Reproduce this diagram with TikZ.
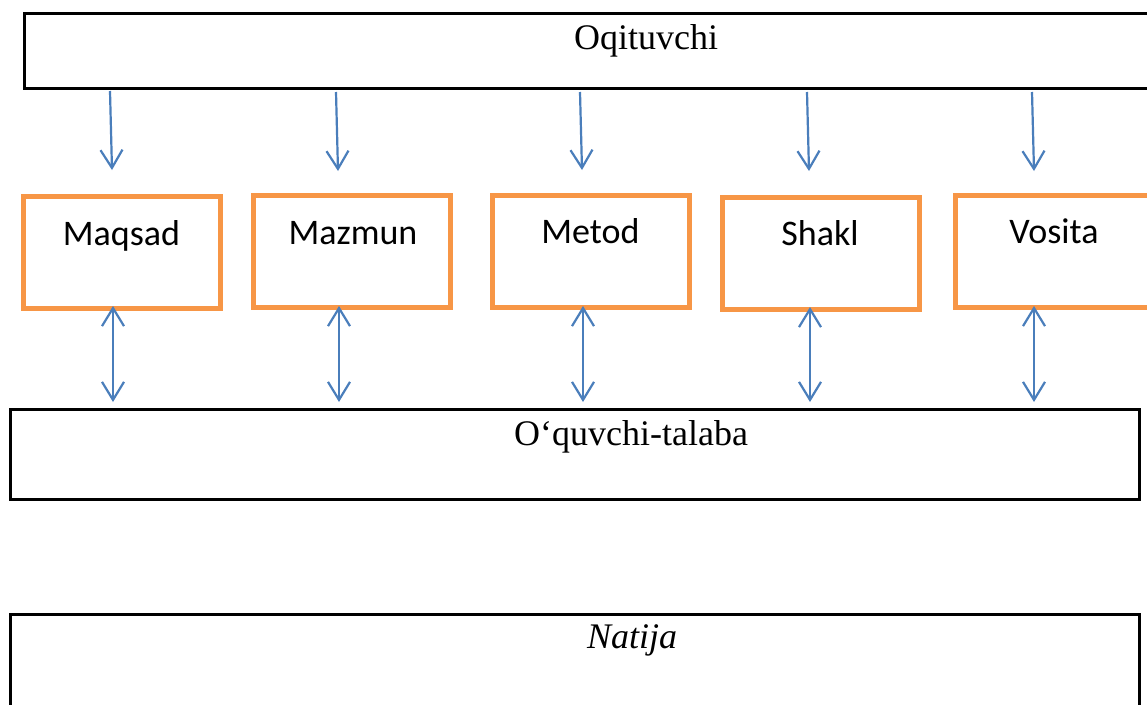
\documentclass[tikz,border=0pt]{standalone}
\usepackage{fontspec}
\setmainfont{Liberation Serif}
\newfontfamily\carlito{Carlito}
\usetikzlibrary{arrows.meta}
\definecolor{obox}{HTML}{F79646}
\definecolor{barrow}{HTML}{4A7EBB}
\tikzset{
  blackbox/.style={draw=black, line width=2.6pt, rectangle, inner sep=0pt, outer sep=0pt, anchor=north west},
  orangebox/.style={draw=obox, line width=4.6pt, rectangle, inner sep=0pt, outer sep=0pt, anchor=north west, minimum width=197pt, minimum height=112pt},
  serif/.style={font=\fontsize{36pt}{40pt}\selectfont, anchor=base, inner sep=0pt},
  sans/.style={font=\carlito\fontsize{36pt}{40pt}\selectfont, anchor=base, inner sep=0pt},
  downarrow/.style={draw=barrow, line width=2.2pt, -{Straight Barb[length=18pt,width=22pt,line width=2.2pt]}},
  bothways/.style={draw=barrow, line width=2.2pt, {Straight Barb[length=18pt,width=22pt,line width=2.2pt]}-{Straight Barb[length=18pt,width=22pt,line width=2.2pt]}}
}
\begin{document}
\begin{tikzpicture}[x=1pt,y=-1pt]
\useasboundingbox (0,0) rectangle (1147,704);
\fill[white] (0,0) rectangle (1147,704);
% black boxes
\node[blackbox, minimum width=1150pt, minimum height=75pt] (teacher) at (24.3,13.3) {};
\node[blackbox, minimum width=1129pt, minimum height=90pt] (student) at (10.3,409.3) {};
\node[blackbox, minimum width=1129pt, minimum height=120pt] (result) at (10.3,614.3) {};
\node[serif] (teacherT) at (646,49) {Oqituvchi};
\node[serif] (studentT) at (631,445) {O‘quvchi-talaba};
\node[serif] (resultT) at (632,648) {\itshape Natija};
% orange boxes
\node[orangebox] (maqsad) at (23.3,196.3) {};
\node[orangebox] (mazmun) at (253.3,195.3) {};
\node[orangebox] (metod) at (492.3,195.3) {};
\node[orangebox] (shakl) at (722.3,197.3) {};
\node[orangebox, minimum width=220pt] (vosita) at (955.3,195.3) {};
\node[sans] (maqsadT) at (121.5,245) {Maqsad};
\node[sans] (mazmunT) at (353,244) {Mazmun};
\node[sans] (metodT) at (590.5,243.5) {Metod};
\node[sans] (shaklT) at (820,245) {Shakl};
\node[sans] (vositaT) at (1054,243.5) {Vosita};
% arrow end points
\coordinate (t1) at (110,91);  \coordinate (b1) at (112,170);
\coordinate (t2) at (336,92);  \coordinate (b2) at (338,171);
\coordinate (t3) at (580,92);  \coordinate (b3) at (582,170);
\coordinate (t4) at (807,92);  \coordinate (b4) at (809,171);
\coordinate (t5) at (1032,92); \coordinate (b5) at (1034,171);
\coordinate (u1) at (113,306); \coordinate (d1) at (113,402);
\coordinate (u2) at (339,306); \coordinate (d2) at (339,402);
\coordinate (u3) at (583,306); \coordinate (d3) at (583,402);
\coordinate (u4) at (810,307); \coordinate (d4) at (810,402);
\coordinate (u5) at (1034,306); \coordinate (d5) at (1034,402);
\foreach \i in {1,...,5} {
  \draw[downarrow] (t\i) -- (b\i);
  \draw[bothways] (u\i) -- (d\i);
}
\end{tikzpicture}
\end{document}
